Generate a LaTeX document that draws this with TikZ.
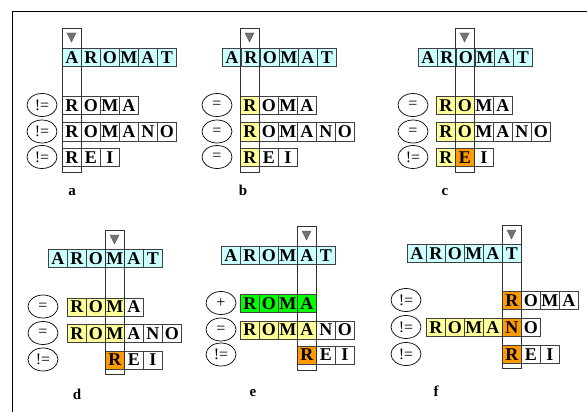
\documentclass[tikz,border=0pt]{standalone}
\usepackage{fontspec}
\setmainfont{Liberation Serif}
\usetikzlibrary{shapes.geometric}

\definecolor{aqua}{HTML}{CCFFFF}
\definecolor{lemon}{HTML}{FFFF99}
\definecolor{amber}{HTML}{FF9900}
\definecolor{lime}{HTML}{00FF00}

\tikzset{
  cell/.style={draw=black!75, line width=0.6pt, anchor=north west, minimum width=19pt, minimum height=18pt,
    inner sep=0pt, text height=12pt, text depth=0pt, font=\fontsize{18}{18}\selectfont\bfseries},
  op/.style={ellipse, draw, line width=0.7pt, minimum width=30pt, minimum height=23pt, inner sep=0pt,
    font=\fontsize{16}{16}\selectfont},
  tag/.style={anchor=base, font=\fontsize{15}{15}\selectfont\bfseries},
  probe/.style={draw=black!80, line width=0.6pt},
  tip/.style={fill=black!55, draw=black!70}
}

% a row of letter cells: name, x, y, letter/colour list
\newcommand{\wordrow}[4]{%
  \foreach \ch/\col [count=\i from 0] in {#4}
    \node[cell, fill=\col] (#1-\i) at (#2+19*\i, #3) {\ch};
}
% the compared column with its marker: x, top, bottom
\newcommand{\probecol}[3]{%
  \draw[probe] (#1,#2) rectangle (#1+19,#3);
  \filldraw[tip] (#1+5,#2+5) -- (#1+14,#2+5) -- (#1+9.5,#2+14) -- cycle;
}

\begin{document}
\begin{tikzpicture}[x=1pt, y=-1pt]
\useasboundingbox (0,0) rectangle (587,412);
\draw[line width=0.8pt] (12,412) -- (12,11) -- (587,11); % frame

% a
\wordrow{a-top}{62}{48}{A/aqua,R/aqua,O/aqua,M/aqua,A/aqua,T/aqua}
\wordrow{a-w1}{62}{96}{R/white,O/white,M/white,A/white}
\wordrow{a-w2}{62}{122.5}{R/white,O/white,M/white,A/white,N/white,O/white}
\wordrow{a-w3}{62}{148}{R/white,E/white,I/white}
\probecol{62}{28}{172}
\node[op] (a-op1) at (42,105) {!=};
\node[op] (a-op2) at (42,131.5) {!=};
\node[op] (a-op3) at (42,157) {!=};
\node[tag] (a-tag) at (72,195) {a};

% b
\wordrow{b-top}{222}{48}{A/aqua,R/aqua,O/aqua,M/aqua,A/aqua,T/aqua}
\wordrow{b-w1}{240}{96}{R/lemon,O/white,M/white,A/white}
\wordrow{b-w2}{240}{122.5}{R/lemon,O/white,M/white,A/white,N/white,O/white}
\wordrow{b-w3}{240}{148}{R/lemon,E/white,I/white}
\probecol{240}{28}{172}
\node[op] (b-op1) at (217,105) {=};
\node[op] (b-op2) at (217,131.5) {=};
\node[op] (b-op3) at (217,157) {=};
\node[tag] (b-tag) at (243,195) {b};

% c
\wordrow{c-top}{418}{48}{A/aqua,R/aqua,O/aqua,M/aqua,A/aqua,T/aqua}
\wordrow{c-w1}{436}{96}{R/lemon,O/lemon,M/white,A/white}
\wordrow{c-w2}{436}{122.5}{R/lemon,O/lemon,M/white,A/white,N/white,O/white}
\wordrow{c-w3}{436}{148}{R/lemon,E/amber,I/white}
\probecol{455}{28}{172}
\node[op] (c-op1) at (413,105) {=};
\node[op] (c-op2) at (413,131.5) {=};
\node[op] (c-op3) at (413,157) {!=};
\node[tag] (c-tag) at (445,195) {c};

% d
\wordrow{d-top}{48}{249}{A/aqua,R/aqua,O/aqua,M/aqua,A/aqua,T/aqua}
\wordrow{d-w1}{67}{297.5}{R/lemon,O/lemon,M/lemon,A/white}
\wordrow{d-w2}{67}{324}{R/lemon,O/lemon,M/lemon,A/white,N/white,O/white}
\wordrow{d-w3}{105}{350.5}{R/amber,E/white,I/white}
\probecol{105}{230}{374}
\node[op] (d-op1) at (43,306.5) {=};
\node[op] (d-op2) at (43,333) {=};
\node[op] (d-op3) at (43,359.5) {!=};
\node[tag] (d-tag) at (77,399) {d};

% e
\wordrow{e-top}{221}{246}{A/aqua,R/aqua,O/aqua,M/aqua,A/aqua,T/aqua}
\wordrow{e-w1}{240}{294}{R/lime,O/lime,M/lime,A/lime}
\wordrow{e-w2}{240}{320.5}{R/lemon,O/lemon,M/lemon,A/lemon,N/white,O/white}
\wordrow{e-w3}{297}{345.5}{R/amber,E/white,I/white}
\probecol{297}{226}{370}
\node[op] (e-op1) at (221,303) {+};
\node[op] (e-op2) at (221,329.5) {=};
\node[op] (e-op3) at (221,354.5) {!=};
\node[tag] (e-tag) at (253,396) {e};

% f
\wordrow{f-top}{407}{244}{A/aqua,R/aqua,O/aqua,M/aqua,A/aqua,T/aqua}
\wordrow{f-w1}{502}{291}{R/amber,O/white,M/white,A/white}
\wordrow{f-w2}{426}{318}{R/lemon,O/lemon,M/lemon,A/lemon,N/amber,O/white}
\wordrow{f-w3}{502}{345}{R/amber,E/white,I/white}
\probecol{502}{225}{368}
\node[op] (f-op1) at (406,300) {!=};
\node[op] (f-op2) at (406,327) {!=};
\node[op] (f-op3) at (406,354) {!=};
\node[tag] (f-tag) at (436,396) {f};
\end{tikzpicture}
\end{document}
